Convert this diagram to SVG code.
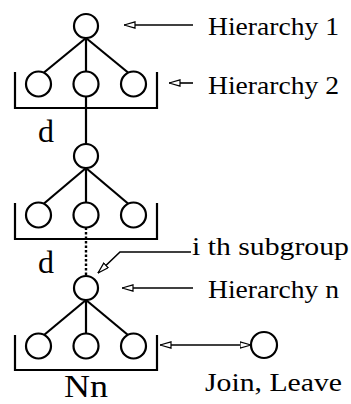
<svg xmlns="http://www.w3.org/2000/svg" width="351" height="404" viewBox="0 0 351 404">
  <style>
    .node { fill: #fff; stroke: #000; stroke-width: 2.2; }
    .edge { fill: none; stroke: #000; stroke-width: 2.2; }
    .dotted { fill: none; stroke: #000; stroke-width: 2.4; stroke-dasharray: 2.5 2; }
    .bracket { fill: none; stroke: #000; stroke-width: 2.2; }
    .ptr { fill: none; stroke: #000; stroke-width: 1.6; }
    .lbl { font-family: "Liberation Serif", "Times New Roman", serif; font-size: 26px; fill: #000; }
    .big { font-family: "Liberation Serif", "Times New Roman", serif; font-size: 32px; fill: #000; }
  </style>
  <defs>
    <marker id="head" viewBox="0 0 12 8" refX="11.5" refY="4" markerWidth="12" markerHeight="8" markerUnits="userSpaceOnUse" orient="auto-start-reverse">
      <path d="M0.5,0.8 L11.5,4 L0.5,7.2 Z" fill="#fff" stroke="#000" stroke-width="1.2"/>
    </marker>
  </defs>

  <rect width="351" height="404" fill="#fff"/>

  <!-- connectors -->
  <g id="connectors">
    <!-- hierarchy 1 tree -->
    <line class="edge" x1="86" y1="38" x2="44" y2="72.5"/>
    <line class="edge" x1="86" y1="38" x2="86" y2="71.5"/>
    <line class="edge" x1="86" y1="38" x2="128" y2="72.5"/>
    <!-- link down to hierarchy 2 -->
    <line class="edge" x1="86" y1="96.5" x2="86" y2="144"/>
    <!-- hierarchy 2 tree -->
    <line class="edge" x1="86" y1="168" x2="44" y2="203.5"/>
    <line class="edge" x1="86" y1="168" x2="86" y2="202.5"/>
    <line class="edge" x1="86" y1="168" x2="128" y2="203.5"/>
    <!-- elided levels -->
    <line class="dotted" x1="86" y1="227.5" x2="86" y2="276"/>
    <!-- hierarchy n tree -->
    <line class="edge" x1="86" y1="300" x2="44" y2="335"/>
    <line class="edge" x1="86" y1="300" x2="86" y2="333.5"/>
    <line class="edge" x1="86" y1="300" x2="128" y2="335"/>

    <!-- brackets grouping each set of children -->
    <path class="bracket" d="M15,72 V108 H157 V72"/>
    <path class="bracket" d="M15,203 V239 H157 V203"/>
    <path class="bracket" d="M15,335 V370 H157 V335"/>

    <!-- label pointers -->
    <line class="ptr" x1="193" y1="25" x2="124" y2="25" marker-end="url(#head)"/>
    <line class="ptr" x1="193" y1="83" x2="169" y2="83" marker-end="url(#head)"/>
    <polyline class="ptr" points="191,252 120,252 98,273" marker-end="url(#head)"/>
    <line class="ptr" x1="193" y1="288" x2="122" y2="288" marker-end="url(#head)"/>
    <line class="ptr" x1="160" y1="345" x2="251" y2="345" marker-start="url(#head)" marker-end="url(#head)"/>
  </g>

  <!-- hierarchy 1 -->
  <g id="h1-root"><circle class="node" cx="86" cy="26" r="12"/></g>
  <g id="h1-a"><circle class="node" cx="38.5" cy="84" r="12.5"/></g>
  <g id="h1-b"><circle class="node" cx="86" cy="84" r="12.5"/></g>
  <g id="h1-c"><circle class="node" cx="133.5" cy="84" r="12.5"/></g>

  <!-- hierarchy 2 -->
  <g id="h2-root"><circle class="node" cx="86" cy="156" r="12"/></g>
  <g id="h2-a"><circle class="node" cx="38.5" cy="215" r="12.5"/></g>
  <g id="h2-b"><circle class="node" cx="86" cy="215" r="12.5"/></g>
  <g id="h2-c"><circle class="node" cx="133.5" cy="215" r="12.5"/></g>

  <!-- hierarchy n -->
  <g id="hn-root"><circle class="node" cx="86" cy="288" r="12"/></g>
  <g id="hn-a"><circle class="node" cx="38.5" cy="346" r="12.5"/></g>
  <g id="hn-b"><circle class="node" cx="86" cy="346" r="12.5"/></g>
  <g id="hn-c"><circle class="node" cx="133.5" cy="346" r="12.5"/></g>

  <!-- joining / leaving member -->
  <g id="member"><circle class="node" cx="264" cy="345" r="13"/></g>

  <!-- labels -->
  <g id="labels">
    <text class="lbl" x="208" y="35" textLength="131" lengthAdjust="spacingAndGlyphs">Hierarchy 1</text>
    <text class="lbl" x="208" y="94" textLength="131" lengthAdjust="spacingAndGlyphs">Hierarchy 2</text>
    <text class="lbl" x="192" y="255" textLength="157" lengthAdjust="spacingAndGlyphs">i th subgroup</text>
    <text class="lbl" x="208" y="298" textLength="131" lengthAdjust="spacingAndGlyphs">Hierarchy n</text>
    <text class="lbl" x="205" y="391" textLength="137" lengthAdjust="spacingAndGlyphs">Join, Leave</text>
    <text class="big" x="38" y="142">d</text>
    <text class="big" x="38" y="273">d</text>
    <text class="big" x="86" y="397" text-anchor="middle" textLength="44" lengthAdjust="spacingAndGlyphs">Nn</text>
  </g>
</svg>
